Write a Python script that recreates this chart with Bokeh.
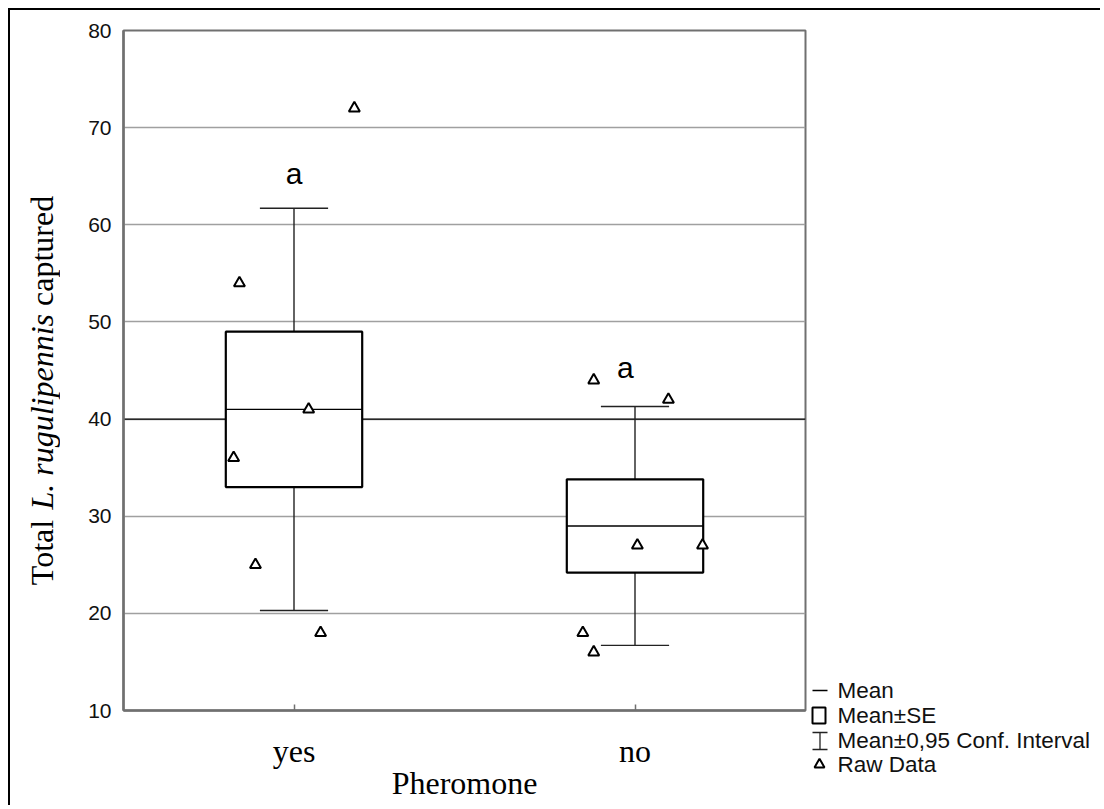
import math
from bokeh.plotting import figure
from bokeh.layouts import row, column
from bokeh.models import Range1d, FixedTicker, Span, Label, ColumnDataSource, Spacer
from bokeh.embed import file_html
from bokeh.resources import INLINE

# ---------------- data ----------------
categories = ["yes", "no"]
means = [41.0, 29.0]
se_low = [33.0, 24.2]
se_high = [49.0, 33.8]
ci_low = [20.3, 16.7]
ci_high = [61.7, 41.3]

raw_yes = [54, 36, 25, 41, 18, 72]
raw_yes_dx = [-0.160, -0.177, -0.113, 0.043, 0.078, 0.177]
raw_no = [44, 18, 16, 27, 27, 42]
raw_no_dx = [-0.121, -0.153, -0.121, 0.007, 0.198, 0.098]

letters = ["a", "a"]
letter_y = [65.3, 45.3]
letter_dx = [0.0, -0.028]

y_ticks = [10, 20, 30, 40, 50, 60, 70, 80]
legend_labels = ["Mean", "Mean\u00b1SE", "Mean\u00b10,95 Conf. Interval", "Raw Data"]

# ---------------- layout constants (page pixels) ----------------
ORIGIN = 10            # content starts after 8px margin + 2px border
TOTAL_H = 795
TITLE_W = 50           # page x 10..60
MAIN_W = 750           # page x 60..810
LEG_W = 290            # page x 810..1100
FL, FR, FT, FB = 123, 805, 30, 710   # frame edges on the page

AXIS_GRAY = "#707070"
SERIF = "Liberation Serif"
SANS = "Liberation Sans"

def bare(fig):
    fig.outline_line_color = None
    fig.grid.grid_line_color = None
    fig.min_border = 0
    return fig

# ---------------- main plot ----------------
X0, X1, Y0, Y1 = 0.0, 2.0, 10.0, 80.0
p = figure(frame_width=FR - FL, frame_height=FB - FT,
           x_range=Range1d(X0, X1), y_range=Range1d(Y0, Y1),
           output_backend="svg", toolbar_location=None,
           min_border_left=FL - (ORIGIN + TITLE_W), min_border_right=(ORIGIN + TITLE_W + MAIN_W) - FR,
           min_border_top=FT - ORIGIN, min_border_bottom=(ORIGIN + TOTAL_H) - FB,
           background_fill_color="white", border_fill_color="white")
p.outline_line_color = AXIS_GRAY
p.outline_line_width = 2

p.yaxis.ticker = FixedTicker(ticks=y_ticks)
p.yaxis.major_label_text_font = SANS
p.yaxis.major_label_text_font_size = "21px"
p.yaxis.major_label_text_color = "#111111"
p.yaxis.major_tick_in = 0
p.yaxis.major_tick_out = 0
p.yaxis.minor_tick_line_color = None
p.yaxis.major_label_standoff = 12
p.yaxis.axis_line_color = AXIS_GRAY
p.yaxis.axis_line_width = 2.5

centers = [i + 0.5 for i in range(len(categories))]
p.xaxis.ticker = FixedTicker(ticks=centers)
p.xaxis.major_label_overrides = {c: cat for c, cat in zip(centers, categories)}
p.xaxis.major_label_text_font = SERIF
p.xaxis.major_label_text_font_size = "32px"
p.xaxis.major_label_text_color = "#000000"
p.xaxis.major_tick_in = 6
p.xaxis.major_tick_out = 0
p.xaxis.major_tick_line_color = AXIS_GRAY
p.xaxis.major_tick_line_width = 1.5
p.xaxis.minor_tick_line_color = None
p.xaxis.major_label_standoff = 22
p.xaxis.axis_line_color = AXIS_GRAY
p.xaxis.axis_line_width = 2.5
p.xaxis.axis_label = "Pheromone"
p.xaxis.axis_label_text_font = SERIF
p.xaxis.axis_label_text_font_size = "32px"
p.xaxis.axis_label_text_font_style = "normal"
p.xaxis.axis_label_text_color = "#000000"
p.xaxis.axis_label_standoff = -7

p.xgrid.grid_line_color = None
p.ygrid.grid_line_color = "#a0a0a0"
p.ygrid.grid_line_width = 1.3

p.add_layout(Span(location=40, dimension="width", line_color="black",
                  line_width=1.2, level="underlay"))

box_half = 0.2
cap_half = 0.1
src = ColumnDataSource(dict(
    c=centers, left=[c - box_half for c in centers], right=[c + box_half for c in centers],
    cap_l=[c - cap_half for c in centers], cap_r=[c + cap_half for c in centers],
    mean=means, se_lo=se_low, se_hi=se_high, ci_lo=ci_low, ci_hi=ci_high))

WH = dict(source=src, line_color="#222222", line_width=1.4)
p.segment(x0="c", y0="se_hi", x1="c", y1="ci_hi", **WH)
p.segment(x0="c", y0="se_lo", x1="c", y1="ci_lo", **WH)
p.segment(x0="cap_l", y0="ci_hi", x1="cap_r", y1="ci_hi", **WH)
p.segment(x0="cap_l", y0="ci_lo", x1="cap_r", y1="ci_lo", **WH)
p.quad(left="left", right="right", bottom="se_lo", top="se_hi", source=src,
       fill_color="white", line_color="black", line_width=2.2)
p.segment(x0="left", y0="mean", x1="right", y1="mean", source=src, line_color="black", line_width=1.4)

xs_raw = [centers[0] + d for d in raw_yes_dx] + [centers[1] + d for d in raw_no_dx]
ys_raw = raw_yes + raw_no
p.scatter(xs_raw, ys_raw, marker="triangle", size=11, line_color="black",
          line_width=2, fill_color="white")

for c, t, ly, ldx in zip(centers, letters, letter_y, letter_dx):
    p.add_layout(Label(x=c + ldx, y=ly, text=t, text_align="center", text_baseline="middle",
                       text_font=SANS, text_font_size="30px", text_color="#000000"))

# ---------------- y-axis title panel (page-pixel coordinates) ----------------
tf = bare(figure(frame_width=TITLE_W, frame_height=TOTAL_H,
                 x_range=Range1d(ORIGIN, ORIGIN + TITLE_W),
                 y_range=Range1d(ORIGIN + TOTAL_H, ORIGIN),
                 x_axis_location=None, y_axis_location=None,
                 output_backend="svg", toolbar_location=None))
FS = 32
SPACE_EM = 0.25
segs = [("Total", "normal", 2.111), ("L. rugulipennis", "italic", 6.112), ("captured", "normal", 3.443)]
total_em = sum(s[2] for s in segs) + SPACE_EM * (len(segs) - 1)
start_py = (FT + FB) / 2 + total_em * FS / 2
for txt, style, em in segs:
    tf.add_layout(Label(x=41, y=start_py, text=txt, angle=math.pi / 2,
                        text_align="left", text_baseline="middle",
                        text_font=SERIF, text_font_size=f"{FS}px",
                        text_font_style=style, text_color="#000000"))
    start_py -= (em + SPACE_EM) * FS

# ---------------- legend panel (page-pixel coordinates) ----------------
LEG_TOP, LEG_BOT = 675, 785
lf = bare(figure(frame_width=LEG_W, frame_height=LEG_BOT - LEG_TOP,
                 x_range=Range1d(ORIGIN + TITLE_W + MAIN_W, ORIGIN + TITLE_W + MAIN_W + LEG_W),
                 y_range=Range1d(LEG_BOT, LEG_TOP),
                 x_axis_location=None, y_axis_location=None,
                 output_backend="svg", toolbar_location=None))
row_py = [690, 715, 740, 764]
for lab, ry in zip(legend_labels, row_py):
    lf.add_layout(Label(x=837, y=ry, text=lab, text_align="left", text_baseline="middle",
                        text_font=SANS, text_font_size="22.5px", text_color="#111111"))
# Mean
lf.segment(x0=[812], y0=[row_py[0]], x1=[827], y1=[row_py[0]], line_color="black", line_width=1.4)
# Mean±SE
lf.quad(left=[812], right=[825], top=[row_py[1] - 8], bottom=[row_py[1] + 8],
        fill_color=None, line_color="black", line_width=2)
# CI I-beam
yt, yb = row_py[2] - 8, row_py[2] + 9
lf.segment(x0=[812, 812, 819.5], y0=[yt, yb, yt], x1=[827, 827, 819.5], y1=[yt, yb, yb],
           line_color="#222222", line_width=1.3)
# Raw data
lf.scatter([819], [row_py[3]], marker="triangle", size=10, line_color="black",
           line_width=2, fill_color="white")

leg_col = column(Spacer(width=LEG_W, height=LEG_TOP - ORIGIN), lf)
layout = row(tf, p, leg_col)
layout.styles = {"margin-left": "8px", "margin-top": "8px",
                 "border-top": "2px solid black", "border-left": "2px solid black"}

open("out.html", "w").write(file_html(layout, INLINE))
